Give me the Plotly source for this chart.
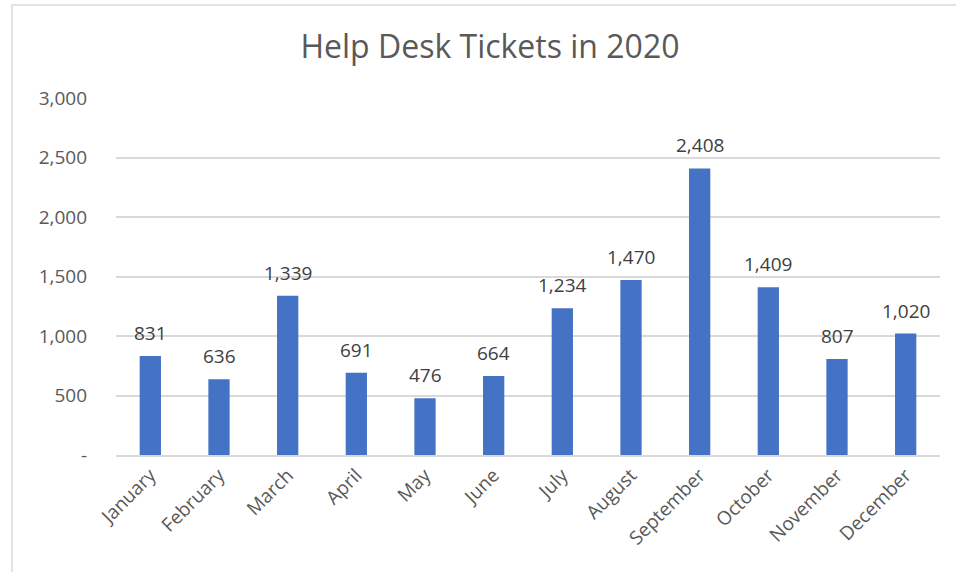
import plotly.graph_objects as go

months = ["January", "February", "March", "April", "May", "June", "July",
          "August", "September", "October", "November", "December"]
tickets = [831, 636, 1339, 691, 476, 664, 1234, 1470, 2408, 1409, 807, 1020]
ytick_vals = [0, 500, 1000, 1500, 2000, 2500, 3000]
ytick_text = ["-", "500", "1,000", "1,500", "2,000", "2,500", "3,000"]

fig = go.Figure()
fig.add_trace(go.Bar(x=months, y=tickets, marker=dict(color="#4472C4", line=dict(width=0)),
                     hoverinfo="x+y"))

for m, v in zip(months, tickets):
    fig.add_annotation(x=m, y=v, text=f"{v:,}", showarrow=False, yshift=23,
                       font=dict(family="Open Sans", size=19, color="#404040"))

fig.add_shape(type="rect", xref="paper", yref="paper", x0=-0.1262, x1=1.1, y0=-0.5, y1=1.2605,
              line=dict(color="#D9D9D9", width=1.5), layer="below")

fig.update_layout(
    width=956, height=572,
    margin=dict(l=116, r=16, t=98, b=117),
    paper_bgcolor="white", plot_bgcolor="white",
    title=dict(text="Help Desk Tickets in 2020", x=0.5125, xanchor="center", y=0.918, yanchor="middle",
               font=dict(family="Open Sans", size=32, color="#595959")),
    bargap=0.69,
    showlegend=False,
    xaxis=dict(tickangle=-45, tickfont=dict(family="Open Sans", size=19, color="#595959"),
               showline=True, linecolor="#D9D9D9", linewidth=1.5, ticks="", showgrid=False),
    yaxis=dict(range=[0, 3000], tickvals=ytick_vals, ticktext=ytick_text,
               tickfont=dict(family="Open Sans", size=19, color="#595959"),
               showgrid=True, gridcolor="#D9D9D9", gridwidth=1.5, zeroline=False,
               ticks="", ticklabelstandoff=28),
)

fig.write_html("out.html")
